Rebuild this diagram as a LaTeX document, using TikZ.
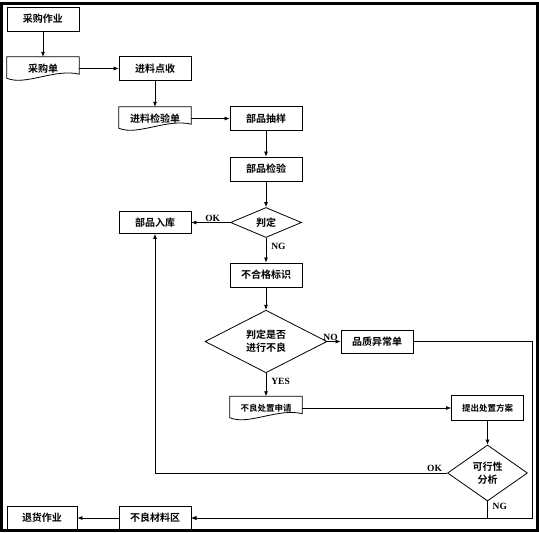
\documentclass[tikz,border=0pt]{standalone}
\usepackage{fontspec}
\setmainfont{Liberation Serif}
\newfontfamily\cjk{Noto Sans CJK SC}[BoldFont={* Bold}]
\usepackage{tikz}
\usetikzlibrary{arrows.meta,positioning,shapes.geometric,calc}
\newcommand{\zh}{\cjk\bfseries}
% wavy-bottom outline for the form nodes
\newcommand{\docshape}[1]{%
  \draw[line width=0.8pt] (#1.north west) -- (#1.north east)
    -- ([yshift=6pt]#1.south east)
    .. controls ([xshift=-24pt,yshift=12pt]#1.south east) and ([xshift=18pt,yshift=-6pt]#1.south west)
    .. ([yshift=2pt]#1.south west) -- cycle;}

\begin{document}
\begin{tikzpicture}[x=1pt,y=-1pt,
  stepbox/.style={draw,line width=0.8pt,minimum width=72pt,minimum height=24pt,
                  inner sep=1pt,font=\zh\fontsize{10}{12}\selectfont},
  docbox/.style={minimum width=72pt,minimum height=23pt,inner sep=1pt,
                 font=\zh\fontsize{10}{12}\selectfont},
  decide/.style={diamond,draw,line width=0.8pt,inner sep=0pt,align=center,
                 font=\zh\fontsize{10}{13}\selectfont},
  arrow/.style={-{Latex[length=5pt,width=4pt]},line width=0.7pt},
  tag/.style={font=\bfseries\fontsize{9.5}{11}\selectfont,inner sep=1pt}]

  \useasboundingbox (0,0) rectangle (539,533);
  \draw[line width=3pt] (1.5,3) rectangle (537,530.5);

  % Incoming goods
  \node[stepbox] (cg) at (43,19) {采购作业};
  \node[docbox] (cgd) at (43,68.5) {采购单};
  \node[stepbox] (jl) at (155,68.5) {进料点收};
  \node[docbox] (jld) at (155,118.5) {进料检验单};
  \node[stepbox] (cy) at (266,118.5) {部品抽样};
  \node[stepbox] (bj) at (266,169) {部品检验};
  \docshape{cgd}
  \docshape{jld}

  % First judgement
  \node[decide,minimum width=71pt,minimum height=30pt] (pd) at (266,222.5) {判定};
  \node[stepbox,minimum height=22pt] (rk) at (155,222.5) {部品入库};
  \node[stepbox] (bhg) at (266,275) {不合格标识};

  % Second judgement
  \node[decide,minimum width=122pt,minimum height=58pt] (pd2) at (266,341.5)
    {判定是否\\进行不良};
  \node[stepbox,minimum height=23pt] (yc) at (377,341.5) {品质异常单};
  \node[docbox,font=\zh\fontsize{8.5}{10}\selectfont] (sq) at (266,408) {不良处置申请};
  \node[stepbox,minimum height=25pt,font=\zh\fontsize{8.5}{10}\selectfont] (fa) at (487.5,408)
    {提出处置方案};
  \node[decide,minimum width=80pt,minimum height=56pt] (kx) at (487.5,473)
    {可行性\\分析};
  \docshape{sq}

  % Bottom row
  \node[stepbox,minimum height=23pt] (cl) at (155,518) {不良材料区};
  \node[stepbox,minimum height=23pt,minimum width=70pt] (th) at (42,518) {退货作业};
  \coordinate (rt) at (532,518);

  % Arrows
  \draw[arrow] (cg) -- (cgd);
  \draw[arrow] (cgd.east) -- (jl.west);
  \draw[arrow] (jl) -- (jld);
  \draw[arrow] (jld.east) -- (cy.west);
  \draw[arrow] (cy) -- (bj);
  \draw[arrow] (bj) -- (pd);
  \draw[arrow] (pd.west) -- node[tag,above,pos=0.45] {OK} (rk.east);
  \draw[arrow] (pd.south) -- node[tag,right=4pt,pos=0.35] {NG} (bhg.north);
  \draw[arrow] (bhg) -- (pd2);
  \draw[arrow] (pd2.east) -- node[tag,above left=0pt and -5pt,pos=0.5] {NO} (yc.west);
  \draw[arrow] (pd2.south) -- node[tag,right=4pt,pos=0.35] {YES} (sq.north);
  \draw[arrow] (sq.east) -- (fa.west);
  \draw[arrow] (fa) -- (kx);
  \draw[arrow] (kx.west) -| (rk.south);
  \node[tag,above left=0pt and 4pt of kx.west] (okt) {OK};
  \draw[arrow] (kx.south) |- (cl.east);
  \node[tag,below right=1pt and 4pt of kx.south] (ngt) {NG};
  \draw[arrow] (yc.east) -| (rt) -- (cl.east);
  \draw[arrow] (cl) -- (th);

\end{tikzpicture}
\end{document}
